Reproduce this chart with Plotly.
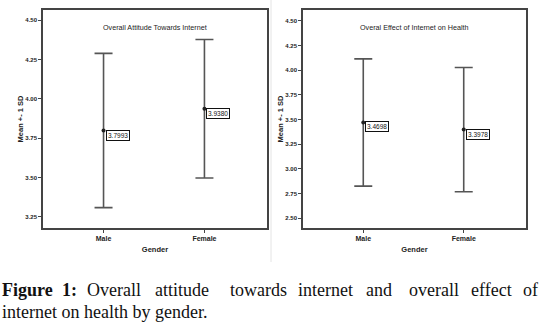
import plotly.graph_objects as go

genders = ["Male", "Female"]
attitude_mean = [3.7993, 3.9380]
attitude_sd = [0.49, 0.44]
health_mean = [3.4698, 3.3978]
health_sd = [0.645, 0.63]

attitude_ticks = [3.25, 3.50, 3.75, 4.00, 4.25, 4.50]
health_ticks = [2.50, 2.75, 3.00, 3.25, 3.50, 3.75, 4.00, 4.25, 4.50]

panel_titles = ["Overall Attitude Towards Internet", "Overal Effect of Internet on Health"]

caption_line1 = ["Overall", "attitude", "towards", "internet", "and", "overall", "effect", "of"]
caption_line1_x = [85, 153, 228, 296, 364, 407, 469, 521]
caption_line2 = "internet on health by gender."

W, H = 542, 335
SMALL = "Liberation Sans Narrow, Arial Narrow, Liberation Sans, Arial"
SERIF = "Liberation Serif, Times New Roman, serif"

fig = go.Figure()

panels = [
    (attitude_mean, attitude_sd, "x", "y"),
    (health_mean, health_sd, "x2", "y2"),
]
for means, sds, xa, ya in panels:
    fig.add_trace(go.Scatter(
        x=genders, y=means, mode="markers", xaxis=xa, yaxis=ya,
        marker=dict(size=4, color="#222"),
        error_y=dict(type="data", array=sds, visible=True, color="#555",
                     thickness=1.6, width=9),
        showlegend=False, hoverinfo="skip",
    ))
    for g, m in zip(genders, means):
        fig.add_annotation(
            x=g, y=m, xref=xa, yref=ya, text=f"{m:.4f}", showarrow=False,
            xanchor="left", yanchor="top", xshift=2, yshift=1,
            font=dict(family=SMALL, size=6.5, color="#111"),
            bgcolor="white", bordercolor="#111", borderwidth=1, borderpad=1,
        )

axis_common = dict(showline=True, mirror=True, linecolor="#444", linewidth=1.5,
                   ticks="outside", ticklen=3, tickcolor="#444", showgrid=False,
                   zeroline=False)
tick_font_x = dict(family=SMALL, size=7, color="#222", weight="bold")
tick_font_y = dict(family=SMALL, size=6, color="#222", weight="bold")
title_font = dict(family=SMALL, size=7.5, color="#222", weight="bold")

fig.update_layout(
    width=W, height=H, margin=dict(l=0, r=0, t=0, b=0),
    paper_bgcolor="white", plot_bgcolor="white",
    xaxis=dict(domain=[43/W, 267/W], range=[-0.6, 1.62], type="category",
               tickfont=tick_font_x,
               title=dict(text="Gender", font=title_font, standoff=6),
               anchor="y", **axis_common),
    yaxis=dict(domain=[1-228/H, 1-10/H], range=[3.18, 4.565], tickvals=attitude_ticks,
               tickformat=".2f", tickfont=tick_font_y,
               title=dict(text="Mean +- 1 SD", font=title_font, standoff=0),
               anchor="x", **axis_common),
    xaxis2=dict(domain=[303/W, 526/W], range=[-0.6, 1.62], type="category",
                tickfont=tick_font_x,
                title=dict(text="Gender", font=title_font, standoff=6),
                anchor="y2", **axis_common),
    yaxis2=dict(domain=[1-228/H, 1-10/H], range=[2.40, 4.61], tickvals=health_ticks,
                tickformat=".2f", tickfont=tick_font_y,
                title=dict(text="Mean +- 1 SD", font=title_font, standoff=0),
                anchor="x2", **axis_common),
)

# panel titles inside plot area
for title, xa in [(panel_titles[0], "x domain"), (panel_titles[1], "x2 domain")]:
    fig.add_annotation(text=title, xref=xa, yref="paper", x=0.5, y=1-27/H,
                       showarrow=False, xanchor="center", yanchor="middle",
                       font=dict(family=SMALL, size=7.2, color="#222"))

# faint border of right image
fig.add_shape(type="line", xref="paper", yref="paper", x0=271/W, x1=271/W,
              y0=1-262/H, y1=1, line=dict(color="#e4e4e4", width=1))

# caption
cap_font = dict(family=SERIF, size=18, color="#111")
fig.add_annotation(text="<b>Figure</b>", xref="paper", yref="paper",
                   x=0, y=1-290/H, xanchor="left", yanchor="middle", showarrow=False,
                   font=cap_font)
fig.add_annotation(text="<b>1:</b>", xref="paper", yref="paper",
                   x=60/W, y=1-290/H, xanchor="left", yanchor="middle", showarrow=False,
                   font=cap_font)
for word, px in zip(caption_line1, caption_line1_x):
    fig.add_annotation(text=word, xref="paper", yref="paper",
                       x=px/W, y=1-290/H, xanchor="left", yanchor="middle", showarrow=False,
                       font=cap_font)
fig.add_annotation(text=caption_line2, xref="paper", yref="paper",
                   x=0, y=1-312/H, xanchor="left", yanchor="middle", showarrow=False,
                   font=cap_font)

fig.write_html("out.html", config={"displayModeBar": False},
               post_script="document.body.style.margin='0';")
